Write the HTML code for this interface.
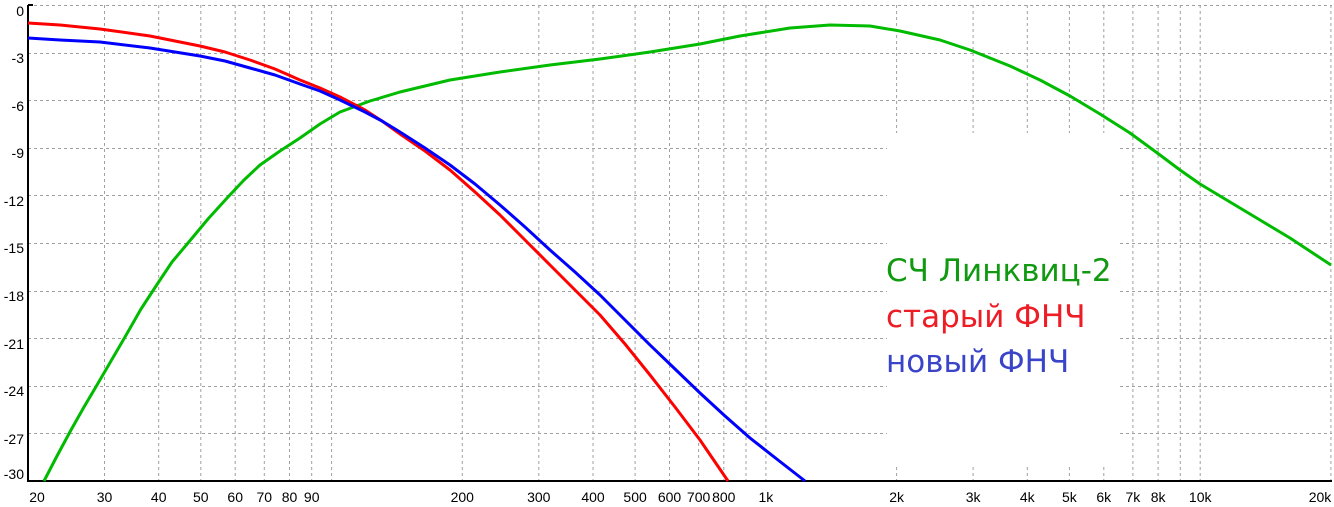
<!DOCTYPE html>
<html><head><meta charset="utf-8"><style>
html,body{margin:0;padding:0;background:#fff;}
svg{display:block;}
text{font-family:"Liberation Sans",sans-serif;}
</style></head><body>
<svg width="1334" height="507" viewBox="0 0 1334 507" xmlns="http://www.w3.org/2000/svg">
<g stroke="#a0a0a0" stroke-width="1" stroke-dasharray="3,3" fill="none">
<path d="M28 5.5H1332M28 53.5H1332M28 100.5H1332M28 148.5H1332M28 195.5H1332M28 243.5H1332M28 291.5H1332M28 338.5H1332M28 386.5H1332M28 433.5H1332"/>
<path d="M104.5 5V481M158.7 5V481M200.8 5V481M235.2 5V481M264.3 5V481M289.5 5V481M311.7 5V481M331.6 5V481M462.3 5V481M538.8 5V481M593 5V481M635.1 5V481M669.5 5V481M698.6 5V481M723.8 5V481M746 5V481M765.9 5V481M896.6 5V481M973.1 5V481M1027.3 5V481M1069.4 5V481M1103.8 5V481M1132.9 5V481M1158.1 5V481M1180.3 5V481M1200.2 5V481M1330.9 5V481"/>
</g>
<rect x="887" y="133" width="233" height="333" fill="#fff"/>
<g stroke="#000" stroke-width="2" fill="none">
<path d="M28 5V482M27 481H1332"/>
<path d="M28 5H33"/>
</g>
<g font-size="14" fill="#000" text-anchor="end">
<text x="24" y="16">0</text><text x="24" y="63">-3</text><text x="24" y="111">-6</text><text x="24" y="158">-9</text><text x="24" y="206">-12</text><text x="24" y="253">-15</text><text x="24" y="301">-18</text><text x="24" y="349">-21</text><text x="24" y="396">-24</text><text x="24" y="444">-27</text><text x="24" y="479">-30</text>
</g>
<g font-size="14" fill="#000" text-anchor="middle">
<text x="37" y="502">20</text><text x="104.5" y="502">30</text><text x="158.7" y="502">40</text><text x="200.8" y="502">50</text><text x="235.2" y="502">60</text><text x="264.3" y="502">70</text><text x="289.5" y="502">80</text><text x="311.7" y="502">90</text><text x="462.3" y="502">200</text><text x="538.8" y="502">300</text><text x="593" y="502">400</text><text x="635.1" y="502">500</text><text x="669.5" y="502">600</text><text x="698.6" y="502">700</text><text x="723.8" y="502">800</text><text x="765.9" y="502">1k</text><text x="896.6" y="502">2k</text><text x="973.1" y="502">3k</text><text x="1027.3" y="502">4k</text><text x="1069.4" y="502">5k</text><text x="1103.8" y="502">6k</text><text x="1132.9" y="502">7k</text><text x="1158.1" y="502">8k</text><text x="1200.2" y="502">10k</text><text x="1320" y="502">20k</text>
</g>
<g fill="none" stroke-width="3" stroke-linejoin="round">
<polyline stroke="#00bb00" points="44,481 57,456 71,430 84,407 97,385 111,361 125,337 141,309 158,283 172,262 188,243 208,219 228,197 244,180 260,165 280,151 300,138 320,124 340,112 370,101 400,92 425,86 450,80 500,72 550,65 600,59 650,52 700,44 740,36 790,28 830,25 870,26 900,31 940,40 970,50 1010,66 1040,80 1070,96 1100,114 1130,133 1160,155 1180,170 1200,184 1230,202 1260,220 1290,238 1331,265"/>
<polyline stroke="#ff0000" points="28,23 60,25 100,29 150,36 200,46 225,52 250,60 275,69 300,80 320,88 340,97 365,110 382,121 400,134 425,151 450,170 475,192 500,215 525,240 550,265 575,290 600,315 625,344 650,375 675,407 700,440 728,481"/>
<polyline stroke="#0000ff" points="28,38 60,40 100,42 150,48 200,56 225,61 250,68 275,75 300,84 320,91 340,100 365,112 382,121 400,132 425,148 450,165 475,184 500,205 525,227 550,250 575,272 600,295 625,320 650,345 675,369 700,393 725,416 750,438 778,460 805,481"/>
</g>
<g font-size="31">
<text x="886" y="281" fill="#119911" style="font-family:'DejaVu Sans',sans-serif">СЧ Линквиц-2</text>
<text x="886" y="327" fill="#ee1c24" style="font-family:'DejaVu Sans',sans-serif">старый ФНЧ</text>
<text x="886" y="372" fill="#3a44c8" style="font-family:'DejaVu Sans',sans-serif">новый ФНЧ</text>
</g>
</svg>
</body></html>
